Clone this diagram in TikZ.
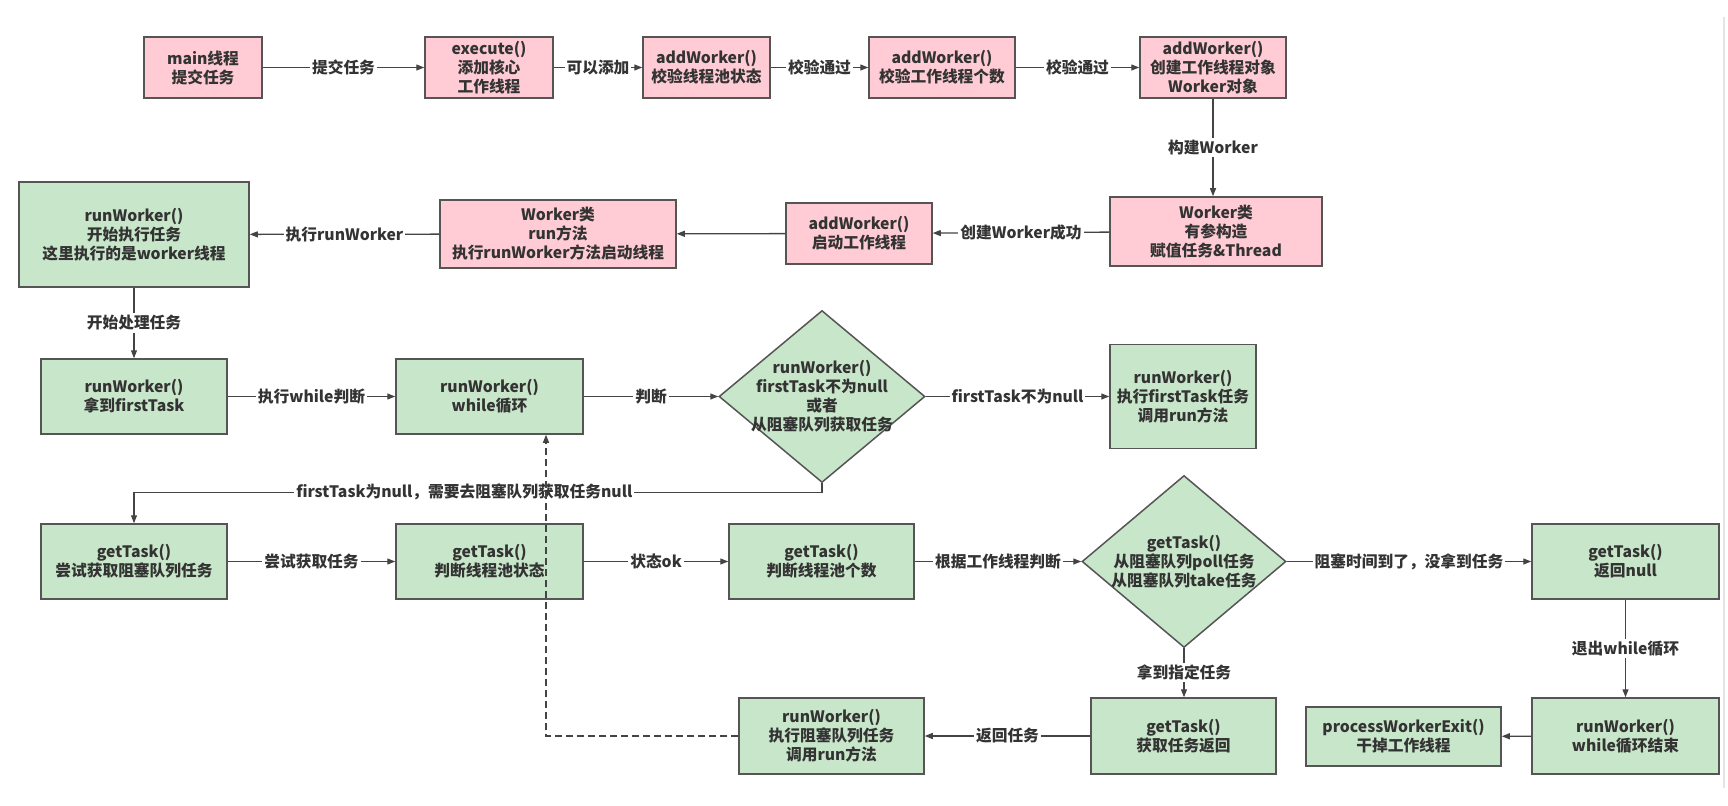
\documentclass[tikz,border=0pt]{standalone}
\usepackage{fontspec}
\setmainfont{Noto Sans CJK SC}
\usetikzlibrary{arrows.meta,shapes.geometric}
\newlength\px \setlength\px{0.75pt}
\definecolor{pinkfill}{HTML}{FFCCD5}
\definecolor{greenfill}{HTML}{C8E6C9}
\definecolor{edgec}{HTML}{555555}
\definecolor{txtc}{HTML}{333333}
\definecolor{connc}{HTML}{444444}
\begin{document}
\begin{tikzpicture}[x=0.75pt,y=-0.75pt,
  font=\fontsize{11.8pt}{14.25pt}\selectfont\bfseries,
  box/.style={draw=edgec,line width=1.5\px,text=txtc,align=center,inner sep=0pt},
  pinkbox/.style={box,fill=pinkfill},
  greenbox/.style={box,fill=greenfill},
  dia/.style={diamond,draw=edgec,line width=1.5\px,fill=greenfill,inner sep=0pt},
  diatext/.style={text=txtc,align=center,inner sep=0pt},
  arr/.style={draw=connc,line width=1.3\px,-{Triangle[length=6pt,width=4.5pt]}},
  lbl/.style={fill=white,text=txtc,inner sep=2\px},
]
\useasboundingbox[fill=white] (0,0) rectangle (1728,806);
\draw[black!10,line width=1.5\px] (1724,17) -- (1724,788);

% row 1
\node[pinkbox,minimum width=118\px,minimum height=61\px] (main) at (203,67.5) {main线程\\提交任务};
\node[pinkbox,minimum width=128\px,minimum height=61\px] (exec) at (489,67.5) {execute()\\添加核心\\工作线程};
\node[pinkbox,minimum width=127\px,minimum height=61\px] (aw1) at (706.5,67.5) {addWorker()\\校验线程池状态};
\node[pinkbox,minimum width=146\px,minimum height=61\px] (aw2) at (942,67.5) {addWorker()\\校验工作线程个数};
\node[pinkbox,minimum width=146\px,minimum height=61\px] (aw3) at (1213,67.5) {addWorker()\\创建工作线程对象\\Worker对象};

% row 2
\node[pinkbox,minimum width=212\px,minimum height=69\px] (wk) at (1216,231.5) {Worker类\\有参构造\\赋值任务\&Thread};
\node[pinkbox,minimum width=146\px,minimum height=61\px] (aws) at (859,233.5) {addWorker()\\启动工作线程};
\node[pinkbox,minimum width=236\px,minimum height=68\px] (wkrun) at (558,234) {Worker类\\run方法\\执行runWorker方法启动线程};
\node[greenbox,minimum width=230\px,minimum height=105\px] (rw0) at (134,234.5) {runWorker()\\开始执行任务\\这里执行的是worker线程};

% row 3
\node[greenbox,minimum width=186\px,minimum height=75\px] (rw1) at (134,396.5) {runWorker()\\拿到firstTask};
\node[greenbox,minimum width=187\px,minimum height=75\px] (rw2) at (489.5,396.5) {runWorker()\\while循环};
\node[dia,minimum width=206\px,minimum height=172\px] (d1) at (822,396.5) {};
\node[diatext] (d1t) at (d1.center) {runWorker()\\firstTask不为null\\或者\\从阻塞队列获取任务};
\node[greenbox,minimum width=146\px,minimum height=104\px] (rw3) at (1183,396.5) {runWorker()\\执行firstTask任务\\调用run方法};

% row 4
\node[greenbox,minimum width=186\px,minimum height=75\px] (gt1) at (134,561.5) {getTask()\\尝试获取阻塞队列任务};
\node[greenbox,minimum width=187\px,minimum height=75\px] (gt2) at (489.5,561.5) {getTask()\\判断线程池状态};
\node[greenbox,minimum width=185\px,minimum height=75\px] (gt3) at (821.5,561.5) {getTask()\\判断线程池个数};
\node[dia,minimum width=204\px,minimum height=172\px] (d2) at (1184,561.5) {};
\node[diatext] (d2t) at (d2.center) {getTask()\\从阻塞队列poll任务\\从阻塞队列take任务};
\node[greenbox,minimum width=187\px,minimum height=75\px] (gt5) at (1625.5,561.5) {getTask()\\返回null};

% row 5
\node[greenbox,minimum width=185\px,minimum height=76\px] (rw4) at (831.5,736) {runWorker()\\执行阻塞队列任务\\调用run方法};
\node[greenbox,minimum width=185\px,minimum height=76\px] (gt4) at (1183.5,736) {getTask()\\获取任务返回};
\node[greenbox,minimum width=195\px,minimum height=59\px] (pwe) at (1403.5,736.5) {processWorkerExit()\\干掉工作线程};
\node[greenbox,minimum width=187\px,minimum height=76\px] (rw5) at (1625.5,736) {runWorker()\\while循环结束};

% connectors
\draw[arr] (main) -- node[lbl]{提交任务} (exec);
\draw[arr] (exec) -- node[lbl]{可以添加} (aw1);
\draw[arr] (aw1) -- node[lbl]{校验通过} (aw2);
\draw[arr] (aw2) -- node[lbl]{校验通过} (aw3);
\draw[arr] (aw3.south) -- node[lbl]{构建Worker} (aw3.south |- wk.north);
\draw[arr] (wk) -- node[lbl]{创建Worker成功} (aws);
\draw[arr] (aws) -- (wkrun);
\draw[arr] (wkrun) -- node[lbl]{执行runWorker} (rw0);
\draw[arr] (rw0) -- node[lbl]{开始处理任务} (rw1);
\draw[arr] (rw1) -- node[lbl]{执行while判断} (rw2);
\draw[arr] (rw2) -- node[lbl]{判断} (d1.west);
\draw[arr] (d1.east) -- node[lbl]{firstTask不为null} (rw3);
\draw[arr] (d1.south) -- ++(0,9) -| node[lbl,pos=0.26]{firstTask为null，需要去阻塞队列获取任务null} (gt1.north);
\draw[arr] (gt1) -- node[lbl]{尝试获取任务} (gt2);
\draw[arr] (gt2) -- node[lbl]{状态ok} (gt3);
\draw[arr] (gt3) -- node[lbl]{根据工作线程判断} (d2.west);
\draw[arr] (d2.east) -- node[lbl]{阻塞时间到了，没拿到任务} (gt5);
\draw[arr] (d2.south) -- node[lbl]{拿到指定任务} (d2.south |- gt4.north);
\draw[arr] (gt4) -- node[lbl]{返回任务} (rw4);
\draw[arr] (gt5) -- node[lbl]{退出while循环} (rw5);
\draw[arr] (rw5) -- (pwe);
\draw[arr,dash pattern=on 7\px off 4\px] (rw4.west) -| ([xshift=56.5\px]rw2.south);
\end{tikzpicture}
\end{document}
